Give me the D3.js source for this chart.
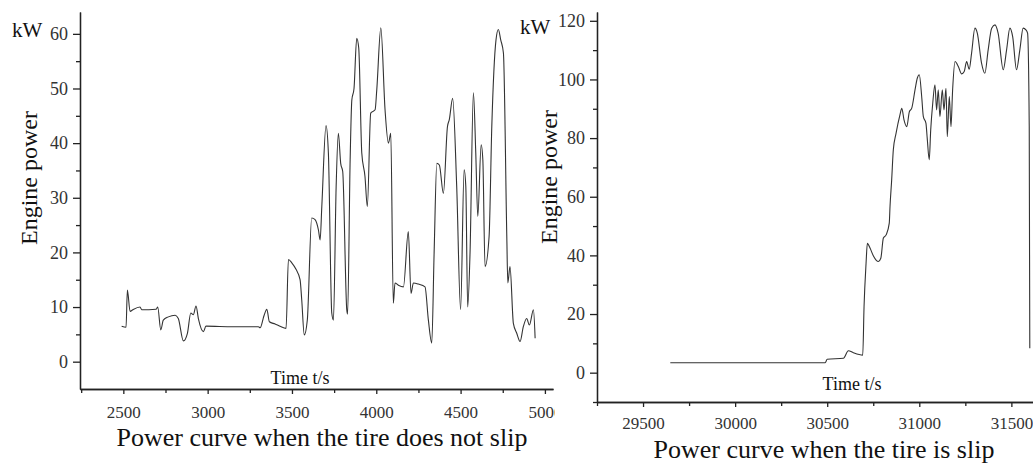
<!DOCTYPE html>
<html>
<head>
<meta charset="utf-8">
<script src="https://cdn.jsdelivr.net/npm/d3@7"></script>
<style>
  body { margin: 0; background: #fff; }
  svg { display: block; font-family: "Liberation Serif", "Times New Roman", serif; }
  .axis path, .axis line { stroke: #222; stroke-width: 1.3; }
  .axis text { fill: #333; font-family: "Liberation Serif", "Times New Roman", serif; }
</style>
</head>
<body>
<div id="chart"></div>
<script>
// Tire does not slip: time (s) and engine power (kW)
const noSlipTime = [2490, 2516, 2524, 2540, 2556, 2599, 2609, 2694, 2704, 2722, 2737, 2767, 2807, 2826, 2856, 2880, 2900, 2915, 2931, 2945, 2975, 2990, 3150, 3301, 3311, 3335, 3351, 3366, 3400, 3429, 3465, 3479, 3499, 3524, 3548, 3558, 3573, 3591, 3617, 3637, 3657, 3667, 3677, 3702, 3716, 3736, 3746, 3762, 3775, 3789, 3801, 3825, 3830, 3845, 3855, 3868, 3884, 3896, 3914, 3933, 3947, 3967, 3993, 4003, 4027, 4052, 4072, 4086, 4101, 4111, 4131, 4161, 4190, 4206, 4220, 4250, 4289, 4309, 4329, 4343, 4359, 4374, 4398, 4422, 4433, 4453, 4477, 4500, 4521, 4531, 4542, 4556, 4576, 4590, 4602, 4622, 4632, 4645, 4669, 4685, 4710, 4724, 4738, 4754, 4774, 4780, 4793, 4813, 4833, 4853, 4872, 4892, 4908, 4932, 4942];
const noSlipPower = [6.5, 6.3, 13.1, 9.2, 9.5, 10.0, 9.5, 9.6, 10.0, 5.8, 7.6, 8.2, 8.5, 7.9, 3.8, 5.2, 8.9, 8.6, 10.2, 7.9, 5.5, 6.5, 6.4, 6.4, 6.2, 8.5, 9.6, 7.3, 6.9, 6.5, 6.1, 18.7, 18.1, 16.9, 15.0, 11.3, 4.9, 7.6, 26.3, 26.0, 24.1, 22.3, 28.4, 43.2, 38.2, 8.9, 7.6, 32.0, 41.8, 36.3, 34.8, 9.5, 8.7, 36.9, 47.9, 50.0, 59.2, 57.4, 38.2, 33.9, 28.4, 45.5, 46.1, 49.8, 61.1, 46.1, 40.0, 41.8, 10.7, 14.4, 14.0, 13.7, 23.8, 12.5, 14.4, 14.2, 13.7, 7.6, 3.4, 19.9, 36.3, 36.0, 30.8, 43.0, 44.3, 48.2, 32.0, 9.5, 35.1, 32.0, 10.0, 19.9, 49.2, 38.2, 26.6, 39.7, 36.9, 17.4, 22.9, 43.0, 58.9, 60.8, 58.9, 56.5, 22.9, 14.4, 17.4, 7.0, 5.2, 3.7, 6.4, 7.9, 6.7, 9.5, 4.3];

// Tire is slip
const slipTime = [29648, 30489, 30500, 30588, 30615, 30642, 30693, 30700, 30711, 30718, 30733, 30751, 30778, 30791, 30805, 30820, 30837, 30841, 30850, 30859, 30874, 30895, 30905, 30917, 30932, 30946, 30959, 30977, 30989, 31000, 31013, 31022, 31036, 31043, 31054, 31062, 31073, 31085, 31094, 31103, 31112, 31125, 31134, 31145, 31152, 31163, 31172, 31181, 31194, 31212, 31230, 31244, 31257, 31271, 31284, 31302, 31315, 31338, 31356, 31374, 31393, 31411, 31428, 31456, 31474, 31492, 31507, 31528, 31546, 31564, 31579, 31588, 31597, 31600];
const slipPower = [3.4, 3.4, 4.6, 4.9, 7.5, 6.8, 6.0, 22.5, 37.3, 44.1, 42.4, 39.8, 37.9, 39.0, 45.9, 47.0, 51.0, 56.6, 65.7, 76.0, 81.7, 87.9, 90.2, 86.2, 83.9, 89.0, 90.2, 96.5, 100.4, 101.6, 94.2, 87.3, 85.1, 80.0, 72.6, 82.8, 91.9, 98.2, 89.6, 96.5, 87.3, 96.5, 89.6, 97.0, 80.5, 94.2, 83.9, 96.5, 106.1, 104.4, 101.9, 102.7, 106.1, 103.5, 109.0, 117.5, 115.8, 105.6, 102.1, 110.1, 117.5, 118.6, 115.8, 103.3, 110.1, 117.5, 114.6, 103.3, 110.1, 117.5, 116.9, 115.8, 83.9, 8.3];

const noSlipXTicks = [2500, 3000, 3500, 4000, 4500, 5000];
const noSlipXMinor = [2250, 2750, 3250, 3750, 4250, 4750];
const noSlipYTicks = [0, 10, 20, 30, 40, 50, 60];
const noSlipYMinor = [5, 15, 25, 35, 45, 55];
const slipXTicks = [29500, 30000, 30500, 31000, 31500];
const slipXMinor = [29250, 29750, 30250, 30750, 31250];
const slipYTicks = [0, 20, 40, 60, 80, 100, 120];
const slipYMinor = [-10, 10, 30, 50, 70, 90, 110];

const width = 1033;
const height = 463;

const svg = d3
  .select("#chart")
  .append("svg")
  .attr("width", width)
  .attr("height", height);

svg
  .append("defs")
  .append("clipPath")
  .attr("id", "clip-left")
  .append("rect")
  .attr("x", 0)
  .attr("y", 0)
  .attr("width", 555)
  .attr("height", height);

const drawPanel = (g, cfg) => {
  const x = d3.scaleLinear().domain(cfg.xDomain).range(cfg.xRange);
  const y = d3.scaleLinear().domain(cfg.yDomain).range(cfg.yRange);
  const x0 = cfg.xRange[0];
  const yBase = cfg.yRange[0];

  // minor ticks first, then the labelled ones
  g.append("g")
    .attr("class", "axis")
    .attr("transform", `translate(0,${yBase})`)
    .call(d3.axisBottom(x).tickValues(cfg.xMinor).tickSize(4).tickSizeOuter(0).tickFormat(""));
  g.append("g")
    .attr("class", "axis")
    .attr("transform", `translate(0,${yBase})`)
    .call(
      d3.axisBottom(x)
        .tickValues(cfg.xTicks)
        .tickSize(5)
        .tickSizeOuter(0)
        .tickPadding(cfg.xPad)
        .tickFormat(d3.format("d"))
    )
    .selectAll("text")
    .style("font-size", "17px");

  g.append("g")
    .attr("class", "axis")
    .attr("transform", `translate(${x0},0)`)
    .call(d3.axisLeft(y).tickValues(cfg.yMinor).tickSize(4).tickSizeOuter(0).tickFormat(""));
  g.append("g")
    .attr("class", "axis")
    .attr("transform", `translate(${x0},0)`)
    .call(d3.axisLeft(y).tickValues(cfg.yTicks).tickSize(7).tickSizeOuter(0).tickPadding(5))
    .selectAll("text")
    .style("font-size", "18px");

  const line = d3
    .line()
    .x((d) => x(d[0]))
    .y((d) => y(d[1]))
    .curve(d3.curveMonotoneX);

  g.append("path")
    .datum(d3.zip(cfg.time, cfg.power))
    .attr("fill", "none")
    .attr("stroke", "#333")
    .attr("stroke-width", 1.1)
    .attr("d", line);

  g.append("text")
    .attr("x", cfg.kw[0])
    .attr("y", cfg.kw[1])
    .attr("font-size", 21)
    .attr("fill", "#111")
    .text("kW");

  g.append("text")
    .attr("transform", `translate(${cfg.yLabel[0]},${cfg.yLabel[1]}) rotate(-90)`)
    .attr("text-anchor", "middle")
    .attr("font-size", 24)
    .attr("fill", "#111")
    .text("Engine power");

  g.append("text")
    .attr("x", cfg.timeLabel[0])
    .attr("y", cfg.timeLabel[1])
    .attr("text-anchor", "middle")
    .attr("font-size", 18)
    .attr("fill", "#111")
    .text("Time t/s");

  g.append("text")
    .attr("x", cfg.title[0])
    .attr("y", cfg.title[1])
    .attr("text-anchor", "middle")
    .attr("font-size", 26)
    .attr("fill", "#111")
    .text(cfg.titleText);
};

drawPanel(svg.append("g").attr("clip-path", "url(#clip-left)"), {
  xDomain: [2243, 5048],
  xRange: [80, 553],
  yDomain: [-5, 64],
  yRange: [389, 12],
  xTicks: noSlipXTicks,
  xMinor: noSlipXMinor,
  yTicks: noSlipYTicks,
  yMinor: noSlipYMinor,
  xPad: 12,
  time: noSlipTime,
  power: noSlipPower,
  kw: [12, 37],
  yLabel: [37, 178],
  timeLabel: [300, 384],
  title: [322, 446],
  titleText: "Power curve when the tire does not slip",
});

drawPanel(svg.append("g"), {
  xDomain: [29250, 31650],
  xRange: [597, 1039],
  yDomain: [-10, 123],
  yRange: [402, 12],
  xTicks: slipXTicks,
  xMinor: slipXMinor,
  yTicks: slipYTicks,
  yMinor: slipYMinor,
  xPad: 10,
  time: slipTime,
  power: slipPower,
  kw: [520, 34],
  yLabel: [557, 177],
  timeLabel: [852, 390],
  title: [824, 458],
  titleText: "Power curve when the tire is slip",
});
</script>
</body>
</html>
